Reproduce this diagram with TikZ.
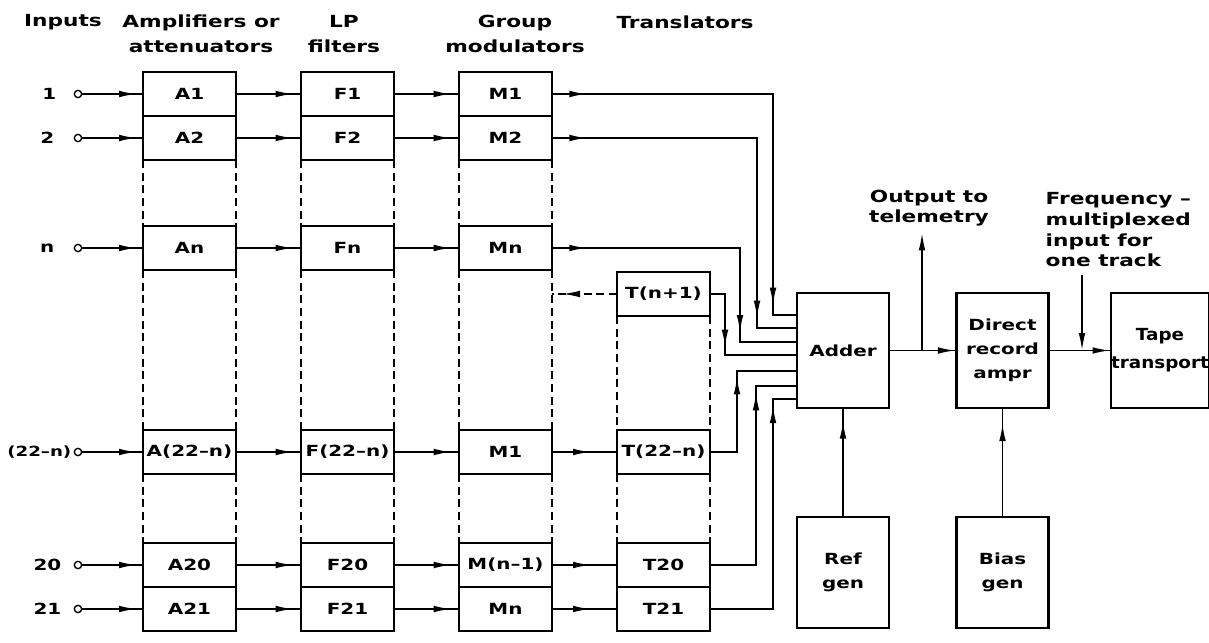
\documentclass[tikz,border=0pt]{standalone}
\usepackage{fontspec}
\newfontfamily\lbl[FakeStretch=1.3]{DejaVu Sans}
\newfontfamily\lbln[FakeStretch=1.1]{DejaVu Sans}
\usetikzlibrary{arrows.meta,decorations.markings}
\tikzset{tipA/.tip={Latex[length=13pt,width=5pt]}}

\begin{document}
\begin{tikzpicture}[x=0.75pt,y=-0.75pt,
  wire/.style={line width=1.2pt},
  hidden/.style={wire, dash pattern=on 6pt off 3.5pt},
  tipat/.style={postaction={decorate,decoration={markings,mark=at position #1 with {\arrow{tipA}}}}},
  blk/.style={draw, line width=1.8pt, outer sep=0pt, minimum width=69.75pt, minimum height=33pt, inner sep=0pt, font=\lbl\bfseries\fontsize{11.5}{13}\selectfont},
  unit/.style={draw, line width=1.6pt, outer sep=0pt, minimum width=69pt, minimum height=86pt, inner sep=0pt, align=center, font=\lbl\bfseries\fontsize{11.5}{18}\selectfont},
  term/.style={circle, draw, line width=1pt, minimum size=5.5pt, inner sep=0pt},
  inlbl/.style={anchor=east, font=\lbl\bfseries\fontsize{11.5}{13}\selectfont},
  hdr/.style={align=center, font=\lbl\bfseries\fontsize{12.5}{18.75}\selectfont},
  note/.style={align=left, font=\lbl\bfseries\fontsize{12.5}{15.5}\selectfont}]
\useasboundingbox (0,0) rectangle (1209,642);

% column headings
\node[hdr] (hinp) at (63,22) {Inputs};
\node[hdr] (hamp) at (201,34) {Amplifiers or\\attenuators};
\node[hdr] (hflt) at (344,34) {LP\\filters};
\node[hdr] (hmod) at (515,34) {Group\\modulators};
\node[hdr] (htrn) at (685,22) {Translators};

% inputs
\node[term] (i1) at (78,94) {};
\node[inlbl] (l1) at (61,94) {1};
\node[term] (i2) at (78,138) {};
\node[inlbl] (l2) at (59,138) {2};
\node[term] (in) at (78,248) {};
\node[inlbl] (ln) at (59,248) {n};
\node[term] (i22) at (78,452) {};
\node[inlbl, font=\lbl\bfseries\fontsize{10.5}{13}\selectfont] (l22) at (76,452) {(22–n)};
\node[term] (i20) at (78,565) {};
\node[inlbl] (l20) at (66,565) {20};
\node[term] (i21) at (78,609) {};
\node[inlbl] (l21) at (66,609) {21};

% amplifiers or attenuators
\node[blk] (A1) at (189.5,94) {A1};
\node[blk] (A2) at (189.5,138) {A2};
\node[blk] (An) at (189.5,248) {An};
\node[blk] (A22) at (189.5,452) {A(22–n)};
\node[blk] (A20) at (189.5,565) {A20};
\node[blk] (A21) at (189.5,609) {A21};

% LP filters
\node[blk] (F1) at (347.5,94) {F1};
\node[blk] (F2) at (347.5,138) {F2};
\node[blk] (Fn) at (347.5,248) {Fn};
\node[blk] (F22) at (347.5,452) {F(22–n)};
\node[blk] (F20) at (347.5,565) {F20};
\node[blk] (F21) at (347.5,609) {F21};

% group modulators
\node[blk] (M1) at (505.5,94) {M1};
\node[blk] (M2) at (505.5,138) {M2};
\node[blk] (Mn) at (505.5,248) {Mn};
\node[blk] (M22) at (505.5,452) {M1};
\node[blk] (M20) at (505.5,565) {M(n–1)};
\node[blk] (M21) at (505.5,609) {Mn};

% translators
\node[blk] (Tn1) at (663.5,294) {T(n+1)};
\node[blk] (T22) at (663.5,452) {T(22–n)};
\node[blk] (T20) at (663.5,565) {T20};
\node[blk] (T21) at (663.5,609) {T21};

% right-hand units
\node[unit] (adder) at (843,350.5) {Adder};
\node[unit] (dra) at (1002.5,350.5) {Direct\\record\\ampr};
\node[unit, font=\lbln\bfseries\fontsize{12.5}{21}\selectfont] (tape) at (1160,350.5) {Tape\\transport};
\node[unit, minimum height=83pt] (ref) at (843,572.5) {Ref\\gen};
\node[unit, minimum height=83pt] (bias) at (1002.5,572.5) {Bias\\gen};

% dashed column edges
\draw[hidden] (A2.south west) -- (An.north west);
\draw[hidden] (A2.south east) -- (An.north east);
\draw[hidden] (An.south west) -- (A22.north west);
\draw[hidden] (An.south east) -- (A22.north east);
\draw[hidden] (A22.south west) -- (A20.north west);
\draw[hidden] (A22.south east) -- (A20.north east);
\draw[hidden] (F2.south west) -- (Fn.north west);
\draw[hidden] (F2.south east) -- (Fn.north east);
\draw[hidden] (Fn.south west) -- (F22.north west);
\draw[hidden] (Fn.south east) -- (F22.north east);
\draw[hidden] (F22.south west) -- (F20.north west);
\draw[hidden] (F22.south east) -- (F20.north east);
\draw[hidden] (M2.south west) -- (Mn.north west);
\draw[hidden] (M2.south east) -- (Mn.north east);
\draw[hidden] (Mn.south west) -- (M22.north west);
\draw[hidden] (Mn.south east) -- (M22.north east);
\draw[hidden] (M22.south west) -- (M20.north west);
\draw[hidden] (M22.south east) -- (M20.north east);
\draw[hidden] (Tn1.south west) -- (T22.north west);
\draw[hidden] (Tn1.south east) -- (T22.north east);
\draw[hidden] (T22.south west) -- (T20.north west);
\draw[hidden] (T22.south east) -- (T20.north east);
\draw[hidden, tipat=-8pt] (Tn1) -- (Tn1 -| Mn.east);

% inputs to amplifiers
\draw[wire, tipat=-5pt] (i1) -- (A1);
\draw[wire, tipat=-5pt] (i2) -- (A2);
\draw[wire, tipat=-5pt] (in) -- (An);
\draw[wire, tipat=-5pt] (i22) -- (A22);
\draw[wire, tipat=-5pt] (i20) -- (A20);
\draw[wire, tipat=-5pt] (i21) -- (A21);

% amplifiers to filters
\draw[wire, tipat=-6pt] (A1) -- (F1);
\draw[wire, tipat=-6pt] (A2) -- (F2);
\draw[wire, tipat=-6pt] (An) -- (Fn);
\draw[wire, tipat=-6pt] (A22) -- (F22);
\draw[wire, tipat=-6pt] (A20) -- (F20);
\draw[wire, tipat=-6pt] (A21) -- (F21);

% filters to modulators
\draw[wire, tipat=-6pt] (F1) -- (M1);
\draw[wire, tipat=-6pt] (F2) -- (M2);
\draw[wire, tipat=-6pt] (Fn) -- (Mn);
\draw[wire, tipat=-6pt] (F22) -- (M22);
\draw[wire, tipat=-6pt] (F20) -- (M20);
\draw[wire, tipat=-6pt] (F21) -- (M21);

% modulators to translators
\draw[wire, tipat=-20pt] (M22) -- (T22);
\draw[wire, tipat=-20pt] (M20) -- (T20);
\draw[wire, tipat=-20pt] (M21) -- (T21);

% into the adder
\coordinate (j1) at (773,315);
\coordinate (j2) at (757,328);
\coordinate (j3) at (740,342);
\coordinate (j4) at (725,355);
\coordinate (j5) at (737,371);
\coordinate (j6) at (756,386);
\coordinate (j7) at (773,399);
\draw[wire, tipat=26pt, tipat=-25.5pt] (M1.east) -| (j1) -- (j1 -| adder.west);
\draw[wire, tipat=26pt, tipat=-37.5pt] (M2.east) -| (j2) -- (j2 -| adder.west);
\draw[wire, tipat=26pt, tipat=-50pt] (Mn.east) -| (j3) -- (j3 -| adder.west);
\draw[wire, tipat=-60pt] (Tn1.east) -| (j4) -- (j4 -| adder.west);
\draw[wire, tipat=-49.5pt] (T22.east) -| (j5) -- (j5 -| adder.west);
\draw[wire, tipat=-36pt] (T20.east) -| (j6) -- (j6 -| adder.west);
\draw[wire, tipat=-23pt] (T21.east) -| (j7) -- (j7 -| adder.west);

% adder, record amplifier and tape
\coordinate (tel) at (922,233);
\coordinate (fm) at (1082,275);
\draw[wire, tipat=-1pt] (adder) -- (dra);
\draw[wire, -tipA] (tel |- adder.east) -- (tel);
\node[note, align=center] (teltxt) at (929,208) {Output to\\telemetry};
\draw[wire, tipat=-1pt] (dra) -- (tape);
\draw[wire, -tipA] (fm) -- (fm |- dra.east);
\node[note, anchor=west] (fmtxt) at (1041,230) {Frequency –\\multiplexed\\input for\\one track};
\draw[wire, tipat=-10pt] (ref) -- (adder);
\draw[wire, tipat=-12pt] (bias) -- (dra);
\end{tikzpicture}
\end{document}
